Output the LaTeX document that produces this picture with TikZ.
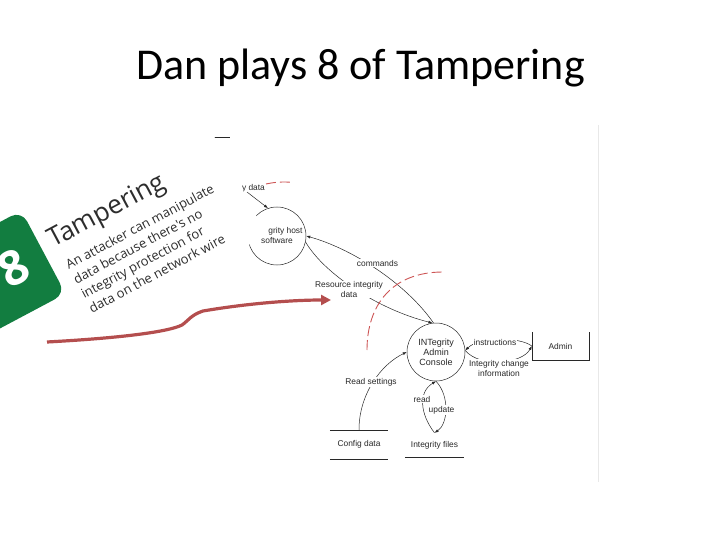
\documentclass[tikz,border=0pt]{standalone}
\usepackage{fontspec}
\setmainfont{Liberation Sans}
\newfontfamily\titlefont{Carlito}
\newfontfamily\cardfont{Open Sans}
\usetikzlibrary{arrows.meta}
\definecolor{tagGreen}{RGB}{18,125,64}
\definecolor{arrowRed}{RGB}{180,78,78}
\definecolor{boundRed}{RGB}{205,85,85}
\definecolor{ink}{RGB}{40,40,40}
\definecolor{cardInk}{RGB}{45,45,45}
\definecolor{frameGray}{RGB}{232,232,232}
\tikzset{
  dline/.style={draw=ink, line width=0.5pt},
  flow/.style={dline, -{Latex[length=4pt,width=3pt]}},
  proc/.style={circle, dline, minimum size=58pt, inner sep=0pt, font=\fontsize{9}{10}\selectfont, text=ink, align=center},
  lbl/.style={font=\fontsize{8.4}{10}\selectfont, text=ink, fill=white, inner sep=0.8pt, align=center},
  store/.style={inner sep=0pt, font=\fontsize{8.4}{10}\selectfont, text=ink},
  boundary/.style={draw=boundRed, line width=0.9pt, dash pattern=on 10pt off 4pt},
}
\begin{document}
\begin{tikzpicture}[x=1pt,y=-1pt]
\useasboundingbox (0,0) rectangle (720,540);
% frame of the pasted diagram
\draw[frameGray, line width=0.6pt] (598,125) -- (598,482);
\draw[ink, line width=0.8pt] (195,137) -- (230,137);
% processes
\node[proc] (host) at (277,236) {};
\node[proc] (console) at (436,352) {INTegrity\\Admin\\Console};
\node[lbl, fill=none] (hostA) at (285.5,231) {grity host};
\node[lbl, fill=none] (hostB) at (277,241) {software};
% stores and entity
\node[store, minimum width=58pt, minimum height=29pt] (config) at (359,444.5) {Config data};
\draw[dline] (config.north west) -- (config.north east) (config.south west) -- (config.south east);
\node[store, minimum width=59pt, minimum height=24pt] (files) at (434.5,445) {Integrity files};
\draw[dline] (files.south west) -- (files.south east);
\node[store, minimum width=57pt, minimum height=28pt] (admin) at (560.5,346) {Admin};
\draw[dline] (admin.north west) -- (admin.south west) -- (admin.south east) -- (admin.north east);
% flows
\coordinate (ydataTail) at (247,192);
\draw[flow] (ydataTail) -- (host.108);
\draw[flow] (console.95) .. controls (405,282) and (350,248) .. (host.east);
\draw[flow] (host.-12) .. controls (325,275) and (380,310) .. (console.97);
\draw[flow] (admin.west) .. controls (520,337) and (480,336) .. (console.3);
\draw[flow] (console.3) .. controls (480,368) and (522,364) .. (admin.west);
\draw[flow] (config.north) .. controls (359,395) and (380,365) .. (console.west);
\draw[flow] (files.north) .. controls (420,414) and (418,392) .. (console.south);
\draw[flow] (console.south) .. controls (450,396) and (448,424) .. (files.north);
% labels
\node[lbl, fill=none, anchor=west] (ydata) at (241,188) {y data};
\node[lbl] (cmd) at (377.5,263) {commands};
\node[lbl] (resdata) at (349,289.5) {Resource integrity\\data};
\node[lbl] (instr) at (495,342) {instructions};
\node[lbl] (change) at (499,368) {Integrity change\\information};
\node[lbl] (readset) at (371,382) {Read settings};
\node[lbl] (readl) at (422,399) {read};
\node[lbl] (updl) at (441.5,410) {update};
% trust boundaries
\draw[boundary] (266,184) .. controls (275,182) and (284,181.5) .. (293,182.5);
\draw[boundary] (367,350) .. controls (367,305) and (392,272) .. (443,272);
% threat card
\begin{scope}[rotate=28, transform shape]
\fill[white] (-600,140) rectangle (125,333);
\fill[tagGreen, rounded corners=12pt] (-220,196) rectangle (-80,290);
\node[font=\cardfont\bfseries\fontsize{48}{48}\selectfont, text=white] (eight) at (-114,243) {8};
\node[anchor=base west, font=\cardfont\fontsize{26}{30}\selectfont, text=cardInk, inner sep=0pt] (tamp) at (-69.5,244) {Tampering};
\node[anchor=base west, align=left, font=\cardfont\fontsize{13}{16.5}\selectfont, text=cardInk, inner sep=0pt] (desc) at (-66,319.9) {An attacker can manipulate\\data because there's no\\integrity protection for\\data on the network wire};
\end{scope}
% red pointer arrow
\coordinate (redStart) at (47,342);
\coordinate (redEnd) at (331,300);
\draw[arrowRed, line width=3.2pt, -{Triangle[length=10pt,width=10pt]}] (redStart) .. controls (120,338) and (168,332) .. (182,325) .. controls (189,320) and (191,315) .. (203,311) .. controls (250,303) and (295,300) .. (redEnd);
% title
\node[font=\titlefont\fontsize{44}{52}\selectfont, anchor=base, text=black] (title) at (360.5,80) {Dan plays 8 of Tampering};
\end{tikzpicture}
\end{document}
